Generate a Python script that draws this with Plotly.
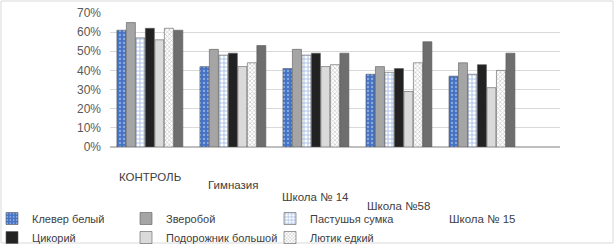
import plotly.graph_objects as go

categories = ["КОНТРОЛЬ", "Гимназия", "Школа № 14", "Школа №58", "Школа № 15"]
series_names = ["Клевер белый", "Зверобой", "Пастушья сумка", "Цикорий",
                "Подорожник большой", "Лютик едкий", "Ряд 7"]
klever = [0.61, 0.42, 0.41, 0.38, 0.37]
zverobo = [0.65, 0.51, 0.51, 0.42, 0.44]
pastush = [0.57, 0.48, 0.48, 0.39, 0.38]
cikorii = [0.62, 0.49, 0.49, 0.41, 0.43]
podorozh = [0.56, 0.42, 0.42, 0.29, 0.31]
lyutik = [0.62, 0.44, 0.43, 0.44, 0.40]
series7 = [0.61, 0.53, 0.49, 0.55, 0.49]
tick_vals = [0, 0.1, 0.2, 0.3, 0.4, 0.5, 0.6, 0.7]
tick_text = ["0%", "10%", "20%", "30%", "40%", "50%", "60%", "70%"]

values = [klever, zverobo, pastush, cikorii, podorozh, lyutik, series7]
styles = [
    dict(color="#4472C4", pattern=dict(shape=".", fgcolor="#DDE6F7", size=4, solidity=0.25)),
    dict(color="#A5A5A5"),
    dict(color="#FFFFFF", pattern=dict(shape="+", fgcolor="#5B85D0", size=4, solidity=0.45)),
    dict(color="#222222"),
    dict(color="#DADADA"),
    dict(color="#FFFFFF", pattern=dict(shape="x", fgcolor="#8C8C8C", size=3, solidity=0.4)),
    dict(color="#6E6E6E"),
]
# legend column of each series (three columns, two rows)
legend_ids = ["legend", "legend2", "legend3", "legend", "legend2", "legend3", None]

fig = go.Figure()
for i, (name, vals) in enumerate(zip(series_names, values)):
    fig.add_trace(go.Bar(
        x=list(range(len(categories))), y=vals, name=name,
        marker=dict(**styles[i], line=dict(width=0.6, color="#5A5A5A")),
        showlegend=legend_ids[i] is not None,
        legend=legend_ids[i] or "legend",
    ))

W, H = 616, 245
L, R = 110, 560
plot_top, plot_bottom = 13, 147
label_y_px = [177, 185, 197, 206, 219]
for i, (cat, ypx) in enumerate(zip(categories, label_y_px)):
    fig.add_annotation(x=i, xref="x", y=(plot_bottom - ypx) / (plot_bottom - plot_top),
                       yref="paper", text=cat, showarrow=False,
                       font=dict(size=11.5, color="#404040"), yanchor="middle")

def legend_at(px):
    return dict(orientation="v", xref="paper", yref="container",
                x=(px - L) / (R - L), xanchor="left", y=1 - 204 / H, yanchor="top",
                traceorder="normal", font=dict(size=11, color="#404040"),
                itemwidth=30, bgcolor="rgba(0,0,0,0)", tracegroupgap=0)

fig.update_layout(
    width=W, height=H,
    margin=dict(l=L, r=W - R, t=plot_top, b=H - plot_bottom, autoexpand=False),
    paper_bgcolor="white", plot_bgcolor="white",
    barmode="group", bargap=0.2, bargroupgap=0.05,
    font=dict(family="Liberation Sans, Arial, sans-serif", size=11, color="#404040"),
    xaxis=dict(range=[-0.48, 4.94], showticklabels=False, showgrid=False,
               zeroline=False, showline=False, ticks=""),
    yaxis=dict(range=[0, 0.7], tickvals=tick_vals, ticktext=tick_text,
               showgrid=True, gridcolor="#D9D9D9", gridwidth=1,
               zeroline=True, zerolinecolor="#BFBFBF", ticks="", ticklabelstandoff=8,
               tickfont=dict(size=12, color="#595959")),
    legend=legend_at(-8),
    legend2=legend_at(126),
    legend3=legend_at(270),
    shapes=[dict(type="rect", xref="paper", yref="paper",
                 x0=(1 - L) / (R - L), x1=(613 - L) / (R - L),
                 y0=(plot_bottom - 243) / (plot_bottom - plot_top),
                 y1=(plot_bottom - 1) / (plot_bottom - plot_top),
                 line=dict(color="#D9D9D9", width=1))],
)

fig.write_html("out.html", config={"displayModeBar": False},
               post_script="document.body.style.margin='0';")
